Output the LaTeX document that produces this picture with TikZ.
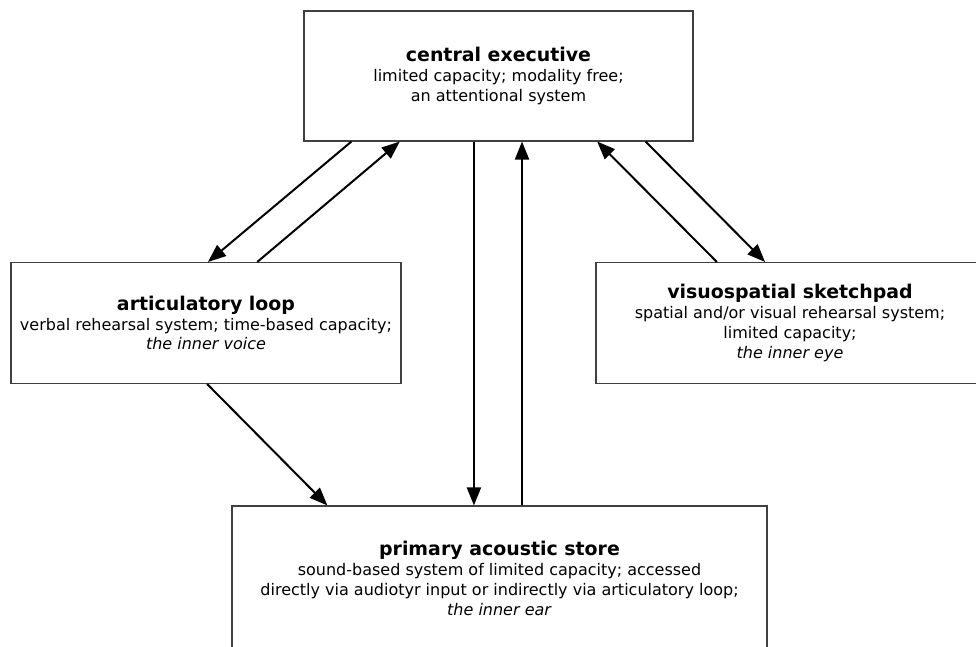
\documentclass[tikz,border=0pt]{standalone}
\usepackage{fontspec}
\setmainfont{DejaVu Sans}
\usetikzlibrary{arrows.meta,calc,positioning}
\tikzset{
        boxnode/.style={align=center,inner sep=0pt},
        % Memory stores
        node_store/.style={boxnode, rectangle, draw=black!75, line width=0.8pt, fill=white,
                font=\fontsize{12}{14.8}\selectfont},
        % Connections between stores
        link/.style={line width=1.5pt, -{Triangle[length=13.5pt,width=10.5pt]}}
}
\newcommand{\storetitle}[1]{{\fontsize{14.2}{15}\selectfont\bfseries #1}}

\begin{document}
\begin{tikzpicture}[x=0.75pt, y=-0.75pt]
            \useasboundingbox (0,0) rectangle (976,647);
            \begin{scope}
            \clip (0,0) rectangle (976,647);
            \node[node_store, minimum width=291.75pt, minimum height=97.5pt] (ce) at (498.5,76)
                {\storetitle{central executive}\\limited capacity; modality free;\\an attentional system};
            \node[node_store, minimum width=292.5pt, minimum height=90.75pt] (loop) at (206,323)
                {\storetitle{articulatory loop}\\verbal rehearsal system; time-based capacity;\\\textit{the inner voice}};
            \node[node_store, minimum width=291pt, minimum height=90.75pt] (pad) at (790,323)
                {\storetitle{visuospatial sketchpad}\\spatial and/or visual rehearsal system;\\limited capacity;\\\textit{the inner eye}};
            \node[node_store, minimum width=401.25pt, minimum height=108.75pt] (store) at (499.5,578.5)
                {\storetitle{primary acoustic store}\\sound-based system of limited capacity; accessed\\directly via audiotyr input or indirectly via articulatory loop;\\\textit{the inner ear}};
            \end{scope}
            % executive <-> articulatory loop
            \draw[link] ($(ce.south west)!0.123!(ce.south east)$) -- ($(loop.north west)!0.505!(loop.north east)$);
            \draw[link] ($(loop.north west)!0.631!(loop.north east)$) -- ($(ce.south west)!0.247!(ce.south east)$);
            % executive <-> acoustic store
            \draw[link] ($(ce.south west)!0.437!(ce.south east)$) coordinate (down) -- (down |- store.north);
            \draw[link] ($(store.north west)!0.542!(store.north east)$) coordinate (up) -- (up |- ce.south);
            % executive <-> sketchpad
            \draw[link] ($(pad.north west)!0.312!(pad.north east)$) -- ($(ce.south west)!0.753!(ce.south east)$);
            \draw[link] ($(ce.south west)!0.877!(ce.south east)$) -- ($(pad.north west)!0.436!(pad.north east)$);
            % articulatory loop -> acoustic store
            \draw[link] ($(loop.south west)!0.503!(loop.south east)$) -- ($(store.north west)!0.179!(store.north east)$);
        \end{tikzpicture}
\end{document}
